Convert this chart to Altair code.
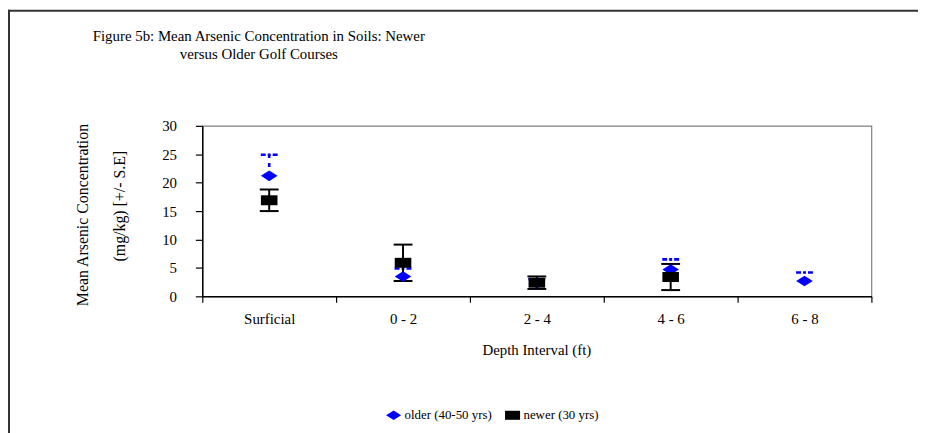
import altair as alt
import pandas as pd

# ---- data ----
depths = ["Surficial", "0 - 2", "2 - 4", "4 - 6", "6 - 8"]
series_names = ["older (40-50 yrs)", "newer (30 yrs)"]

older_depths = ["Surficial", "0 - 2", "2 - 4", "4 - 6", "6 - 8"]
older_mean = [21.2, 3.5, 2.3, 4.7, 2.7]
older_se = [3.7, 1.4, 0.7, 1.8, 1.5]

newer_depths = ["Surficial", "0 - 2", "2 - 4", "4 - 6"]
newer_mean = [16.9, 5.9, 2.4, 3.4]
newer_se = [1.9, 3.2, 1.1, 2.3]

y_ticks = [0, 5, 10, 15, 20, 25, 30]

title_lines = ["Figure 5b: Mean Arsenic Concentration in Soils: Newer",
               "versus Older Golf Courses"]
y_title_lines = ["Mean Arsenic Concentration", "(mg/kg) [+/- S.E]"]
x_title = "Depth Interval (ft)"

rows = []
for d, m, s in zip(older_depths, older_mean, older_se):
    rows.append({"depth": d, "series": series_names[0], "mean": m, "se": s})
for d, m, s in zip(newer_depths, newer_mean, newer_se):
    rows.append({"depth": d, "series": series_names[1], "mean": m, "se": s})
df = pd.DataFrame(rows)

FONT = "Liberation Serif"
W, H = 675, 172

diamond = "M-1,0L0,-0.64L1,0L0,0.64Z"
square = "M-1,-0.6H1V0.6H-1Z"

xscale = alt.Scale(domain=depths, paddingInner=0, paddingOuter=0)
xaxis = alt.Axis(title=None, labelAngle=0, tickBand="extent",
                 labelFont=FONT, labelFontSize=15, labelColor="black",
                 labelPadding=9, tickSize=6, tickColor="black",
                 domainColor="black", domainWidth=1.5, tickWidth=1.2)
yscale = alt.Scale(domain=[0, 30], nice=False, zero=True)
yaxis = alt.Axis(title=None, values=y_ticks, grid=False, labelFont=FONT,
                 labelFontSize=15, labelColor="black", labelPadding=19,
                 tickSize=7, tickColor="black", domainColor="black",
                 domainWidth=1.5, tickWidth=1.2, labelOverlap=False)


def X(**kw):
    return alt.X("depth:N", sort=depths, scale=xscale, axis=xaxis, **kw)


def Y(f):
    return alt.Y(f, scale=yscale, axis=yaxis)


base = alt.Chart(df).transform_calculate(
    lo="datum.mean - datum.se", hi="datum.mean + datum.se")

older_f = base.transform_filter(alt.datum.series == series_names[0])
newer_f = base.transform_filter(alt.datum.series == series_names[1])

# older series: plus-only error bars (dashed blue)
older_bar = older_f.mark_rule(color="#0000ff", strokeWidth=2.6, strokeDash=[4, 5]).encode(
    x=X(), y=Y("mean:Q"), y2="hi:Q")
older_cap = older_f.mark_rule(color="#0000ff", strokeWidth=2.6, strokeDash=[5, 2, 3, 2],
                              xOffset=-8.5, x2Offset=8.5).encode(
    x=X(bandPosition=0.5), x2=alt.X2("depth:N", bandPosition=0.5), y=Y("hi:Q"))

newer_bar = newer_f.mark_rule(color="black", strokeWidth=2).encode(
    x=X(), y=Y("lo:Q"), y2="hi:Q")
newer_caps = [
    newer_f.mark_rule(color="black", strokeWidth=2, xOffset=-9.5, x2Offset=9.5).encode(
        x=X(bandPosition=0.5), x2=alt.X2("depth:N", bandPosition=0.5), y=Y(f"{k}:Q"))
    for k in ["hi", "lo"]
]

points = base.mark_point(filled=True, opacity=1, size=280, strokeWidth=0).encode(
    x=X(),
    y=Y("mean:Q"),
    color=alt.Color("series:N",
                    scale=alt.Scale(domain=series_names, range=["#0000ff", "#000000"]),
                    legend=alt.Legend(title=None, orient="none", direction="horizontal",
                                      legendX=185, legendY=284, labelFont=FONT,
                                      labelFontSize=13, labelColor="black",
                                      symbolSize=230, columnPadding=12,
                                      labelOffset=3, symbolStrokeWidth=0)),
    shape=alt.Shape("series:N",
                    scale=alt.Scale(domain=series_names, range=[diamond, square])),
    order=alt.Order("order:Q"),
).transform_calculate(order="datum.series == 'newer (30 yrs)' ? 1 : 0")

one = alt.Chart(pd.DataFrame({"a": [0]}))

frame_left = one.mark_rule(color="#333333", strokeWidth=2).encode(
    x=alt.value(-195), y=alt.value(-117), y2=alt.value(310))
frame_top = one.mark_rule(color="#333333", strokeWidth=2).encode(
    x=alt.value(-196), x2=alt.value(730), y=alt.value(-116))

t1 = one.mark_text(font=FONT, fontSize=15, align="center", baseline="alphabetic",
                   color="black").encode(x=alt.value(57), y=alt.value(-86),
                                         text=alt.value(title_lines[0]))
t2 = one.mark_text(font=FONT, fontSize=15, align="center", baseline="alphabetic",
                   color="black").encode(x=alt.value(57), y=alt.value(-67),
                                         text=alt.value(title_lines[1]))
yt1 = one.mark_text(font=FONT, fontSize=16, align="center", baseline="middle",
                    angle=270, color="black").encode(
    x=alt.value(-120), y=alt.value(90), text=alt.value(y_title_lines[0]))
yt2 = one.mark_text(font=FONT, fontSize=16, align="center", baseline="middle",
                    angle=270, color="black").encode(
    x=alt.value(-83), y=alt.value(81), text=alt.value(y_title_lines[1]))
xt = one.mark_text(font=FONT, fontSize=15, align="center", baseline="middle",
                   color="black").encode(
    x=alt.value(W / 2), y=alt.value(226), text=alt.value(x_title))

chart = alt.layer(
    older_bar, older_cap, newer_bar, *newer_caps, points,
    frame_left, frame_top, t1, t2, yt1, yt2, xt
).properties(
    width=W, height=H,
    autosize=alt.AutoSizeParams(type="none"),
    padding={"left": 196, "top": 117, "right": 47, "bottom": 136},
    background="white",
).configure_view(stroke="#808080", strokeWidth=1.2)

chart.save("out.html", embed_options={"renderer": "svg", "actions": False})
